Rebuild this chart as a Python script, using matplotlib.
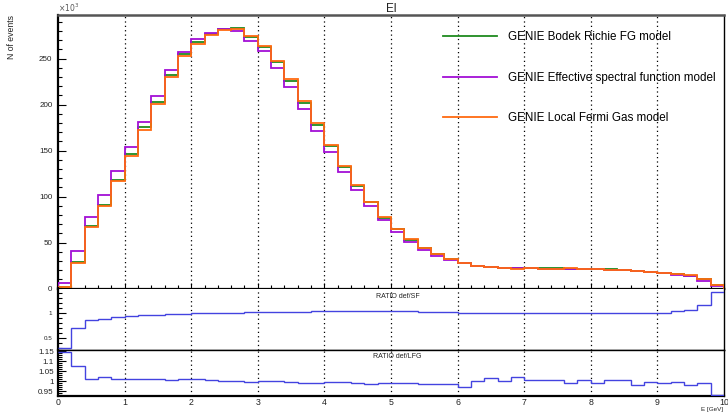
import numpy as np
import matplotlib
matplotlib.use("Agg")
import matplotlib.pyplot as plt
from matplotlib.ticker import MultipleLocator, FixedLocator

plt.rcParams['font.family'] = ['Liberation Sans', 'DejaVu Sans']

# Lepton energy histogram, 50 bins of 0.2 GeV from 0 to 10 GeV (counts in units of 10^3)
e_min, e_max, n_bins = 0.0, 10.0, 50
edges = np.linspace(e_min, e_max, n_bins + 1)

bodek_richie_fg = [
    2.0, 29.0, 68.5, 91.3, 117.8, 146.0, 175.4, 203.0, 232.0, 254.8,
    267.8, 277.2, 282.0, 283.0, 273.6, 262.7, 246.7, 225.8, 201.5, 178.0,
    154.8, 132.0, 111.6, 94.0, 76.8, 64.2, 53.0, 44.0, 37.0, 32.0,
    27.5, 25.0, 23.8, 22.8, 22.2, 22.0, 21.8, 21.8, 21.7, 21.5,
    21.2, 20.7, 19.8, 18.8, 18.0, 17.0, 15.5, 14.0, 10.0, 3.8]

effective_sf = [
    6.0, 41.3, 78.0, 101.5, 127.6, 154.4, 181.5, 209.8, 237.4, 257.0,
    271.0, 278.3, 282.3, 280.4, 269.2, 258.4, 240.0, 219.2, 195.0, 171.0,
    148.5, 126.5, 107.0, 90.0, 74.3, 61.6, 51.0, 42.4, 35.5, 31.2,
    27.7, 24.9, 23.7, 22.7, 22.1, 21.8, 21.7, 21.7, 21.7, 21.6,
    21.3, 20.6, 19.6, 18.6, 17.8, 16.8, 14.9, 13.1, 8.6, 2.7]

local_fermi_gas = [
    1.75, 27.2, 67.0, 89.5, 117.0, 144.2, 172.8, 200.8, 230.0, 252.6,
    266.3, 276.0, 281.5, 282.3, 275.0, 263.5, 247.8, 227.6, 203.7, 179.8,
    156.2, 133.0, 113.0, 94.6, 78.0, 65.2, 53.7, 44.2, 37.3, 32.3,
    28.2, 24.9, 23.4, 22.7, 21.7, 21.8, 21.7, 21.7, 21.8, 21.4,
    21.4, 20.6, 19.7, 19.1, 18.1, 17.2, 15.5, 14.3, 10.1, 4.1]

ratio_def_sf = [
    0.30, 0.70, 0.86, 0.885, 0.92, 0.94, 0.953, 0.966, 0.973, 0.987,
    0.993, 0.995, 1.0, 1.007, 1.013, 1.02, 1.022, 1.022, 1.027, 1.033,
    1.033, 1.035, 1.035, 1.035, 1.04, 1.047, 1.043, 1.02, 1.022, 1.02,
    0.993, 0.997, 1.0, 1.0, 1.0, 1.01, 1.0, 1.0, 0.997, 0.993,
    0.993, 1.0, 1.003, 1.003, 1.007, 1.007, 1.04, 1.07, 1.16, 1.43]

ratio_def_lfg = [
    1.143, 1.078, 1.012, 1.022, 1.01, 1.01, 1.013, 1.013, 1.007, 1.01,
    1.01, 1.007, 1.003, 1.0, 0.997, 1.003, 1.0, 0.997, 0.99, 0.99,
    0.995, 0.995, 0.99, 0.985, 0.99, 0.993, 0.993, 0.985, 0.985, 0.985,
    0.973, 1.003, 1.015, 1.003, 1.023, 1.007, 1.007, 1.005, 0.993, 1.007,
    0.99, 1.007, 1.007, 0.983, 0.997, 0.99, 0.998, 0.98, 0.99, 0.933]

models = [
    ("GENIE Bodek Richie FG model", bodek_richie_fg, "#1f8a1f"),
    ("GENIE Effective spectral function model", effective_sf, "#a30fd6"),
    ("GENIE Local Fermi Gas model", local_fermi_gas, "#ff6a10"),
]
ratio_color = "#4343e0"

W, H = 728, 413
fig = plt.figure(figsize=(W / 100, H / 100), dpi=100)

def box(x0, y0, x1, y1):
    return [x0 / W, 1 - y1 / H, (x1 - x0) / W, (y1 - y0) / H]

ax_main = fig.add_axes(box(58, 15, 724, 288.5))
ax_r1 = fig.add_axes(box(58, 288.5, 724, 350))
ax_r2 = fig.add_axes(box(58, 350, 724, 396))

for ax in (ax_main, ax_r1, ax_r2):
    ax.set_xlim(e_min, e_max)
    for s in ax.spines.values():
        s.set_linewidth(1.0)
        s.set_color("black")
    ax.spines['left'].set_linewidth(1.6)
    for xv in range(1, 10):
        ax.axvline(xv, color="black", lw=0.9, ls=(0, (1, 2.5)), zorder=1)
    ax.xaxis.set_major_locator(MultipleLocator(1))
    ax.xaxis.set_minor_locator(MultipleLocator(0.2))
    ax.tick_params(axis='both', which='both', direction='in', right=False, top=False,
                   width=0.8, colors="black", labelcolor="#222222")

# main panel
for label, vals, col in models:
    ax_main.stairs(vals, edges, baseline=0, color=col, lw=1.3, label=label, zorder=3)
ax_main.set_ylim(0, 297.5)
ax_main.yaxis.set_major_locator(MultipleLocator(50))
ax_main.yaxis.set_minor_locator(MultipleLocator(10))
ax_main.tick_params(axis='y', which='major', length=6, labelsize=5.8, pad=4)
ax_main.tick_params(axis='y', which='minor', length=3)
ax_main.tick_params(axis='x', which='major', length=4, labelbottom=False)
ax_main.tick_params(axis='x', which='minor', length=3)
ax_main.spines['top'].set_color("#555555")
ax_main.spines['top'].set_linewidth(1.8)
ax_main.spines['bottom'].set_linewidth(1.6)
ax_main.set_title("El", fontsize=8.5, pad=0.5, color="#222222")
ax_main.text(0.0, 1.003, r"$\times10^{3}$", transform=ax_main.transAxes,
             fontsize=5.5, color="#555555", ha="left", va="bottom")
fig.text(12 / W, 1 - 15 / H, "N of events", rotation=90, fontsize=6.2,
         ha="center", va="top", color="#222222")
leg = ax_main.legend(loc="upper left", bbox_to_anchor=(0.571, 0.958), frameon=False,
                     fontsize=8.4, handlelength=4.6, handletextpad=0.95,
                     labelspacing=2.45, borderaxespad=0)

# ratio panel: def / SF
ax_r1.stairs(ratio_def_sf, edges, baseline=None, color=ratio_color, lw=1.0, zorder=3)
ax_r1.set_ylim(0.25, 1.5)
ax_r1.yaxis.set_major_locator(FixedLocator([0.5, 1.0]))
ax_r1.yaxis.set_minor_locator(MultipleLocator(0.1))
ax_r1.set_yticklabels(["0.5", "1"])
ax_r1.tick_params(axis='y', which='major', length=6, labelsize=4.5, pad=4)
ax_r1.tick_params(axis='y', which='minor', length=3)
ax_r1.tick_params(axis='x', which='both', length=0, labelbottom=False)
ax_r1.spines['top'].set_visible(False)
ax_r1.text(0.51, 0.93, "RATIO def/SF", transform=ax_r1.transAxes, fontsize=5,
           ha="center", va="top", color="#222222")

# ratio panel: def / LFG
ax_r2.stairs(ratio_def_lfg, edges, baseline=None, color=ratio_color, lw=1.0, zorder=3)
ax_r2.set_ylim(0.927, 1.155)
ax_r2.yaxis.set_major_locator(FixedLocator([0.95, 1.0, 1.05, 1.1, 1.15]))
ax_r2.yaxis.set_minor_locator(MultipleLocator(0.01))
ax_r2.set_yticklabels(["0.95", "1", "1.05", "1.1", "1.15"])
ax_r2.tick_params(axis='y', which='major', length=6, labelsize=5.8, pad=3)
ax_r2.tick_params(axis='y', which='minor', length=3)
ax_r2.tick_params(axis='x', which='both', length=0, labelsize=6.3, pad=1.5)
ax_r2.spines['bottom'].set_linewidth(1.6)
ax_r2.text(0.51, 0.93, "RATIO def/LFG", transform=ax_r2.transAxes, fontsize=5,
           ha="center", va="top", color="#222222")
fig.text(723 / W, 1 - 406.5 / H, "E [GeV]", fontsize=4.5, ha="right", va="top",
         color="#222222")

fig.savefig("out.png", dpi=100)
